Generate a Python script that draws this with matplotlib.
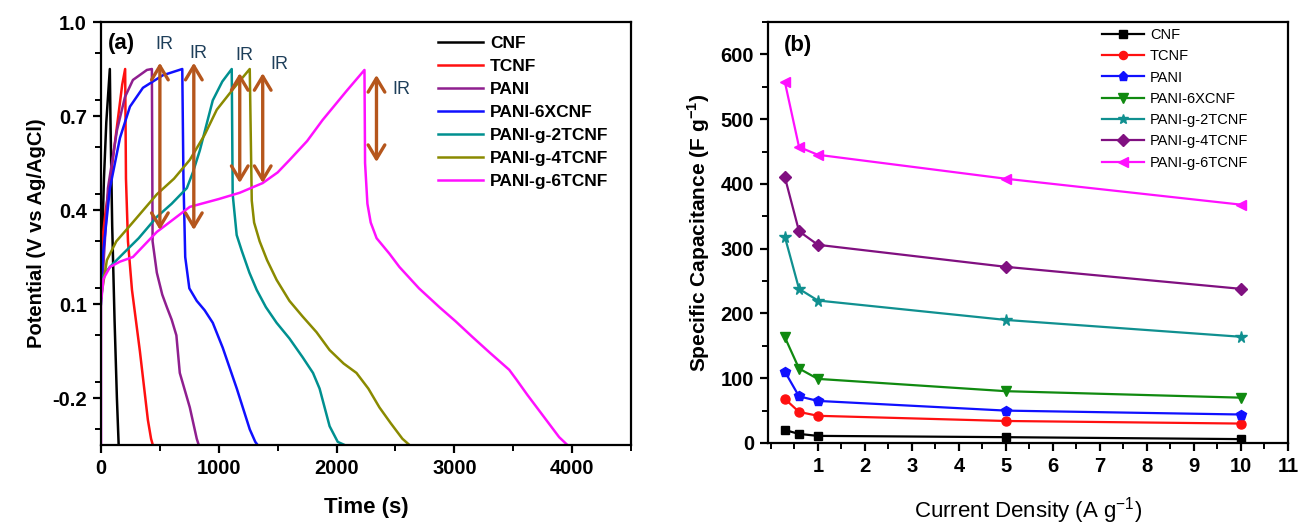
import matplotlib.pyplot as plt
from matplotlib.ticker import MultipleLocator

plt.rcParams['font.family'] = ['Liberation Sans', 'DejaVu Sans']
plt.rcParams['font.weight'] = 'bold'
plt.rcParams['axes.labelweight'] = 'bold'
plt.rcParams['axes.unicode_minus'] = False

# galvanostatic charge/discharge curves: time (s), potential (V vs Ag/AgCl)
cnf_t = [0, 10, 25, 45, 75, 80, 95, 115, 135, 150]
cnf_v = [0.12, 0.3, 0.5, 0.68, 0.85, 0.7, 0.35, 0.05, -0.2, -0.35]
tcnf_t = [0, 10, 40, 80, 130, 180, 205, 212, 229, 263, 330, 398, 425, 440]
tcnf_v = [0.15, 0.3, 0.4, 0.5, 0.65, 0.8, 0.85, 0.5, 0.3, 0.145, -0.05, -0.27, -0.33, -0.35]
pani_t = [0, 17, 59, 136, 203, 271, 390, 432, 438, 474, 520, 559, 600, 640, 669, 754, 813, 830]
pani_v = [0.12, 0.2, 0.47, 0.655, 0.76, 0.815, 0.847, 0.85, 0.3, 0.2, 0.13, 0.09, 0.05, 0.0, -0.12, -0.23, -0.33, -0.35]
pani6x_t = [0, 17, 76, 161, 246, 356, 525, 690, 700, 715, 750, 813, 880, 949, 1034, 1153, 1263, 1310, 1330]
pani6x_v = [0.12, 0.26, 0.47, 0.63, 0.73, 0.79, 0.83, 0.85, 0.5, 0.25, 0.15, 0.11, 0.08, 0.04, -0.04, -0.17, -0.3, -0.34, -0.35]
pani2t_t = [0, 17, 80, 186, 320, 474, 600, 729, 780, 839, 949, 1030, 1110, 1118, 1152, 1195, 1260, 1322, 1400, 1491, 1600, 1712, 1800, 1856, 1941, 2010, 2068]
pani2t_v = [0.1, 0.19, 0.22, 0.26, 0.31, 0.378, 0.42, 0.47, 0.52, 0.59, 0.75, 0.81, 0.85, 0.45, 0.32, 0.27, 0.2, 0.145, 0.09, 0.04, -0.01, -0.07, -0.12, -0.17, -0.29, -0.34, -0.35]
pani4t_t = [0, 50, 130, 246, 360, 474, 620, 754, 880, 983, 1130, 1263, 1280, 1300, 1347, 1410, 1491, 1600, 1712, 1830, 1941, 2060, 2169, 2270, 2364, 2459, 2559, 2619]
pani4t_v = [0.12, 0.24, 0.3, 0.35, 0.4, 0.45, 0.5, 0.56, 0.64, 0.72, 0.79, 0.85, 0.43, 0.36, 0.3, 0.24, 0.177, 0.11, 0.06, 0.01, -0.047, -0.09, -0.12, -0.17, -0.23, -0.28, -0.33, -0.35]
pani6t_t = [0, 0, 20, 76, 160, 271, 474, 754, 1000, 1178, 1373, 1500, 1602, 1750, 1881, 2085, 2237, 2242, 2262, 2290, 2340, 2450, 2534, 2700, 2873, 3010, 3153, 3300, 3466, 3525, 3620, 3720, 3890, 3960, 4017]
pani6t_v = [-0.35, 0.1, 0.18, 0.218, 0.235, 0.25, 0.33, 0.41, 0.435, 0.455, 0.486, 0.52, 0.56, 0.62, 0.687, 0.78, 0.847, 0.55, 0.42, 0.36, 0.31, 0.26, 0.218, 0.15, 0.09, 0.045, -0.005, -0.055, -0.11, -0.14, -0.19, -0.24, -0.325, -0.35, -0.36]

gcd_labels = ['CNF', 'TCNF', 'PANI', 'PANI-6XCNF', 'PANI-g-2TCNF', 'PANI-g-4TCNF', 'PANI-g-6TCNF']

# IR drop arrows: time, upper and lower potential
ir_t = [500, 788, 1178, 1373, 2339]
ir_top = [0.87, 0.87, 0.837, 0.837, 0.831]
ir_bot = [0.336, 0.336, 0.486, 0.486, 0.553]
ir_text_t = [534, 831, 1220, 1517, 2551]
ir_text_v = [0.927, 0.901, 0.892, 0.863, 0.783]

# specific capacitance vs current density
current = [0.3, 0.6, 1, 5, 10]
cap_cnf = [20, 14, 11, 9, 6]
cap_tcnf = [68, 48, 42, 34, 30]
cap_pani = [110, 72, 65, 50, 44]
cap_pani6x = [163, 115, 99, 80, 70]
cap_pani2t = [318, 238, 220, 190, 164]
cap_pani4t = [410, 327, 306, 272, 238]
cap_pani6t = [557, 457, 445, 408, 368]

fig = plt.figure(figsize=(12.99, 5.25), dpi=100)
ax1 = fig.add_axes([101 / 1299, 80 / 525, 530 / 1299, 423 / 525])
ax2 = fig.add_axes([768 / 1299, 82 / 525, 520 / 1299, 421 / 525])

def style_axes(ax):
    for s in ax.spines.values():
        s.set_linewidth(1.6)
    ax.tick_params(which='major', direction='out', length=6, width=1.6,
                   labelsize=14.5, top=False, right=False, pad=4)
    ax.tick_params(which='minor', direction='out', length=4, width=1.4,
                   top=False, right=False)

# (a) charge/discharge
gcd_colors = ['black', '#ff1010', '#8f1f8f', '#1010ff', '#009090', '#8a8a00', '#ff10ff']
gcd_data = [(cnf_t, cnf_v), (tcnf_t, tcnf_v), (pani_t, pani_v), (pani6x_t, pani6x_v),
            (pani2t_t, pani2t_v), (pani4t_t, pani4t_v), (pani6t_t, pani6t_v)]
for (t, v), c, lab in zip(gcd_data, gcd_colors, gcd_labels):
    ax1.plot(t, v, color=c, lw=1.8, label=lab)

for t, top, bot in zip(ir_t, ir_top, ir_bot):
    ax1.annotate('', xy=(t, top), xytext=(t, bot),
                 arrowprops=dict(arrowstyle='<->,head_length=0.5,head_width=0.3',
                                 mutation_scale=20, color='#b5561c', lw=2.4,
                                 shrinkA=0, shrinkB=0))
for t, v in zip(ir_text_t, ir_text_v):
    ax1.text(t, v, 'IR', color='#1e3f5a', fontsize=13, fontweight='normal',
             ha='center', va='center')

ax1.set_xlim(0, 4500)
ax1.set_ylim(-0.35, 1.0)
ax1.set_xticks([0, 1000, 2000, 3000, 4000])
ax1.set_yticks([-0.2, 0.1, 0.4, 0.7, 1.0])
ax1.xaxis.set_minor_locator(MultipleLocator(500))
ax1.yaxis.set_minor_locator(MultipleLocator(0.15))
style_axes(ax1)
ax1.set_xlabel('Time (s)', fontsize=16, labelpad=14)
ax1.set_ylabel('Potential (V vs Ag/AgCl)', fontsize=14.5, labelpad=5)
ax1.text(0.013, 0.95, '(a)', transform=ax1.transAxes, fontsize=16, va='center')
ax1.legend(loc='upper left', bbox_to_anchor=(438 / 1299, 1 - 36 / 525),
           bbox_transform=fig.transFigure, frameon=False, fontsize=12.5,
           handlelength=2.6, labelspacing=0.45, handletextpad=0.4,
           borderaxespad=0, borderpad=0)

# (b) specific capacitance
cap_data = [cap_cnf, cap_tcnf, cap_pani, cap_pani6x, cap_pani2t, cap_pani4t, cap_pani6t]
cap_colors = ['black', '#ff1010', '#1010ff', '#108a10', '#109090', '#801080', '#ff10ff']
cap_markers = ['s', 'o', 'p', 'v', '*', 'D', '<']
cap_sizes = [6, 6.5, 7.5, 7.5, 8.5, 6.5, 7.5]
for y, c, m, ms, lab in zip(cap_data, cap_colors, cap_markers, cap_sizes, gcd_labels):
    ax2.plot(current, y, color=c, marker=m, ms=ms, lw=1.6, label=lab)

ax2.set_xlim(-0.06, 11)
ax2.set_ylim(0, 650)
ax2.set_xticks(range(1, 12))
ax2.set_yticks(range(0, 601, 100))
ax2.xaxis.set_minor_locator(MultipleLocator(0.5))
ax2.yaxis.set_minor_locator(MultipleLocator(50))
style_axes(ax2)
ax2.set_xlabel('Current Density (A g$^{\\mathregular{-1}}$)', fontsize=16,
               fontweight='normal', labelpad=14)
ax2.set_ylabel('Specific Capacitance (F g$^{\\mathregular{-1}}$)', fontsize=15,
               labelpad=6)
ax2.text(0.03, 0.945, '(b)', transform=ax2.transAxes, fontsize=16, va='center')
ax2.legend(loc='upper left', bbox_to_anchor=(1102 / 1299, 1 - 28 / 525),
           bbox_transform=fig.transFigure, frameon=False,
           prop={'size': 10.5, 'weight': 'normal'}, handlelength=2.9,
           labelspacing=0.5, handletextpad=0.4, markerscale=0.9,
           borderaxespad=0, borderpad=0)

fig.savefig('out.png', dpi=100)
